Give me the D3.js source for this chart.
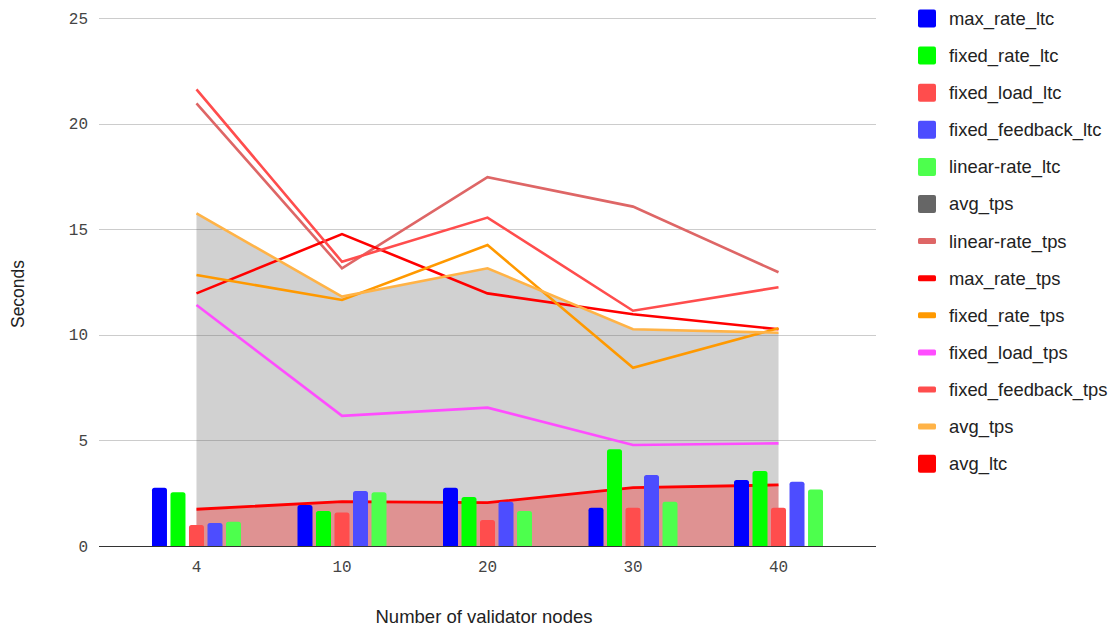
<!DOCTYPE html>
<html>
<head>
<meta charset="utf-8">
<script src="https://cdn.jsdelivr.net/npm/d3@7"></script>
<style>
  html, body { margin: 0; padding: 0; background: #fff; }
  svg { display: block; }
</style>
</head>
<body>
<svg id="chart" width="1113" height="628"></svg>
<script>
// Validator node counts on the x axis
const categories = ["4", "10", "20", "30", "40"];

// Latency series (bars), seconds
const maxRateLtc      = [2.76, 1.94, 2.76, 1.81, 3.12];
const fixedRateLtc    = [2.54, 1.66, 2.32, 4.58, 3.55];
const fixedLoadLtc    = [0.99, 1.59, 1.23, 1.81, 1.81];
const fixedFeedbackLtc = [1.09, 2.60, 2.10, 3.36, 3.04];
const linearRateLtc   = [1.15, 2.54, 1.66, 2.10, 2.68];

// Throughput-time series (lines), seconds
const linearRateTps    = [20.96, 13.15, 17.46, 16.07, 12.96];
const maxRateTps       = [11.96, 14.77, 11.96, 10.97, 10.26];
const fixedRateTps     = [12.83, 11.65, 14.25, 8.44, 10.31];
const fixedLoadTps     = [11.41, 6.16, 6.55, 4.78, 4.86];
const fixedFeedbackTps = [21.62, 13.46, 15.55, 11.14, 12.25];

// Averages (areas + lines)
const avgTps = [15.75, 11.81, 13.15, 10.26, 10.10];
const avgLtc = [1.74, 2.10, 2.05, 2.76, 2.89];

const yTicks = [0, 5, 10, 15, 20, 25];

const barSeries = [
  { name: "max_rate_ltc",       values: maxRateLtc,       color: "#0000ff" },
  { name: "fixed_rate_ltc",     values: fixedRateLtc,     color: "#00ff00" },
  { name: "fixed_load_ltc",     values: fixedLoadLtc,     color: "#ff4d4d" },
  { name: "fixed_feedback_ltc", values: fixedFeedbackLtc, color: "#4d4dff" },
  { name: "linear-rate_ltc",    values: linearRateLtc,    color: "#4dff4d" }
];
const lineSeries = [
  { name: "linear-rate_tps",    values: linearRateTps,    color: "#de6666" },
  { name: "max_rate_tps",       values: maxRateTps,       color: "#ff0000" },
  { name: "fixed_rate_tps",     values: fixedRateTps,     color: "#ff9900" },
  { name: "fixed_load_tps",     values: fixedLoadTps,     color: "#ff4dff" },
  { name: "fixed_feedback_tps", values: fixedFeedbackTps, color: "#ff4d4d" },
  { name: "avg_tps",            values: avgTps,           color: "#ffb347" }
];

const legendItems = [
  ...barSeries.map(s => ({ name: s.name, color: s.color, kind: "box" })),
  { name: "avg_tps", color: "#666666", kind: "box" },
  ...lineSeries.map(s => ({ name: s.name, color: s.color, kind: "line" })),
  { name: "avg_ltc", color: "#ff0000", kind: "box" }
];

const svg = d3.select("#chart");
const plot = { left: 99, right: 876, top: 18, bottom: 546 };
const sans = "Arial, 'Liberation Sans', sans-serif";
const mono = "'Liberation Mono', 'DejaVu Sans Mono', monospace";

const x = d3.scalePoint().domain(categories).range([plot.left, plot.right]).padding(0.67);
const y = d3.scaleLinear().domain([0, 25]).range([plot.bottom, plot.top]);
const xb = d3.scaleBand().domain(barSeries.map(s => s.name)).range([-44.5, 44.5]).paddingInner(0.19);

// Gridlines
svg.append("g").selectAll("line").data(yTicks.filter(t => t > 0)).join("line")
  .attr("x1", plot.left).attr("x2", plot.right)
  .attr("y1", d => Math.round(y(d)) + 0.5).attr("y2", d => Math.round(y(d)) + 0.5)
  .attr("stroke", "#cccccc").attr("stroke-width", 1);

// Y tick labels
svg.append("g").selectAll("text").data(yTicks).join("text")
  .attr("x", 88).attr("y", d => y(d))
  .attr("dy", "0.35em")
  .attr("text-anchor", "end")
  .attr("font-family", mono)
  .attr("font-size", 16).attr("fill", "#444")
  .text(d => d);

// X tick labels
svg.append("g").selectAll("text").data(categories).join("text")
  .attr("x", d => x(d)).attr("y", 572)
  .attr("text-anchor", "middle")
  .attr("font-family", mono)
  .attr("font-size", 16).attr("fill", "#444")
  .text(d => d);

// Average areas
const area = vals => d3.area()
  .x((d, i) => x(categories[i]))
  .y0(y(0)).y1(d => y(d))(vals);

svg.append("path").attr("d", area(avgTps))
  .attr("fill", "#666666").attr("fill-opacity", 0.3);
svg.append("path").attr("d", area(avgLtc))
  .attr("fill", "#ff0000").attr("fill-opacity", 0.3);

// Lines
const line = d3.line().x((d, i) => x(categories[i])).y(d => y(d));
const linesG = svg.append("g").attr("fill", "none");
lineSeries.forEach(s => {
  linesG.append("path").attr("d", line(s.values))
    .attr("stroke", s.color).attr("stroke-width", 2.6)
    .attr("stroke-linejoin", "miter");
});
linesG.append("path").attr("d", line(avgLtc))
  .attr("stroke", "#ff0000").attr("stroke-width", 2.8);

// Bars with rounded top corners
function barPath(x0, w, yTop, yBase, r) {
  r = Math.min(r, w / 2, (yBase - yTop));
  return `M${x0},${yBase}V${yTop + r}Q${x0},${yTop} ${x0 + r},${yTop}` +
         `H${x0 + w - r}Q${x0 + w},${yTop} ${x0 + w},${yTop + r}V${yBase}Z`;
}
const barsG = svg.append("g");
barSeries.forEach(s => {
  barsG.append("g").selectAll("path").data(s.values).join("path")
    .attr("d", (d, i) => barPath(x(categories[i]) + xb(s.name), xb.bandwidth(), y(d), y(0), 2.5))
    .attr("fill", s.color);
});

// Baseline
svg.append("line")
  .attr("x1", plot.left).attr("x2", plot.right)
  .attr("y1", y(0) + 0.5).attr("y2", y(0) + 0.5)
  .attr("stroke", "#333333").attr("stroke-width", 1);

// Axis titles
svg.append("text")
  .attr("x", 484).attr("y", 623)
  .attr("text-anchor", "middle")
  .attr("font-family", sans)
  .attr("font-size", 18.5).attr("fill", "#222")
  .text("Number of validator nodes");
svg.append("text")
  .attr("transform", "translate(24,294) rotate(-90)")
  .attr("text-anchor", "middle")
  .attr("font-family", sans)
  .attr("font-size", 17.5).attr("fill", "#222")
  .text("Seconds");

// Legend
const legend = svg.append("g").attr("transform", "translate(918,0)");
const rowY = i => 18.5 + i * 37.1;
legendItems.forEach((item, i) => {
  const g = legend.append("g");
  if (item.kind === "box") {
    g.append("rect").attr("x", 0).attr("y", rowY(i) - 9).attr("width", 18).attr("height", 18)
      .attr("rx", 2).attr("fill", item.color);
  } else {
    g.append("rect").attr("x", 0).attr("y", rowY(i) - 3).attr("width", 18).attr("height", 6)
      .attr("rx", 1.5).attr("fill", item.color);
  }
  g.append("text").attr("x", 31).attr("y", rowY(i)).attr("dy", "0.35em")
    .attr("font-family", sans)
    .attr("font-size", 18.4).attr("fill", "#222")
    .text(item.name);
});
</script>
</body>
</html>
